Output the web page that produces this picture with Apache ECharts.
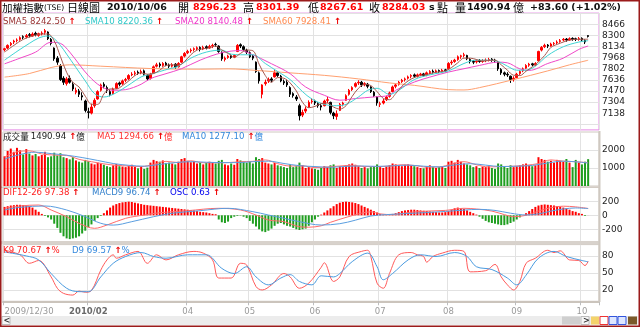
<!DOCTYPE html>
<html><head><meta charset="utf-8">
<script src="https://cdn.jsdelivr.net/npm/echarts@6/dist/echarts.min.js"></script>
<style>html,body{margin:0;padding:0;background:#fff}#c{width:640px;height:327px}</style>
</head><body><div id="c"></div><script>
// Daily candles: [open, close, low, high]
const candles = [
[8085,8100,8060,8115],[8110,8150,8095,8165],[8160,8180,8140,8200],[8200,8215,8170,8235],[8225,8230,8195,8255],
[8240,8265,8220,8285],[8280,8270,8245,8300],[8275,8295,8255,8320],[8310,8300,8270,8335],[8290,8320,8280,8345],
[8330,8310,8285,8355],[8300,8325,8280,8340],[8320,8335,8300,8360],[8345,8370,8310,8395],[8350,8250,8230,8360],
[8240,8180,8150,8260],[8110,7950,7920,8120],[7960,7900,7860,7990],[7850,7640,7620,7870],[7660,7600,7560,7690],
[7580,7650,7550,7680],[7660,7600,7580,7700],[7570,7500,7470,7600],[7450,7480,7420,7520],[7470,7420,7380,7500],
[7400,7380,7330,7450],[7320,7180,7150,7340],[7160,7150,7060,7220],[7140,7230,7120,7280],[7250,7330,7220,7360],
[7350,7460,7340,7480],[7480,7560,7460,7580],[7570,7540,7510,7600],[7520,7480,7440,7550],[7460,7420,7390,7490],
[7430,7500,7410,7520],[7510,7580,7500,7600],[7590,7570,7540,7610],[7580,7620,7560,7640],[7630,7640,7600,7665],
[7650,7700,7630,7720],[7710,7720,7690,7750],[7730,7740,7700,7770],[7750,7730,7710,7775],[7740,7760,7720,7790],
[7770,7720,7700,7790],[7700,7650,7620,7720],[7660,7720,7640,7740],[7740,7830,7730,7850],[7840,7860,7820,7890],
[7870,7850,7820,7895],[7850,7880,7830,7900],[7885,7860,7840,7905],[7855,7840,7810,7880],[7840,7860,7820,7885],
[7870,7830,7800,7885],[7830,7880,7820,7900],[7900,7980,7890,7995],[7990,8030,7970,8050],[8040,8060,8020,8085],
[8070,8080,8040,8105],[8090,8100,8060,8120],[8100,8115,8080,8135],[8120,8090,8060,8135],[8095,8120,8080,8145],
[8130,8110,8090,8150],[8110,8135,8100,8160],[8140,8150,8110,8175],[8165,8160,8130,8190],[8140,8060,8040,8150],
[8050,7950,7920,8060],[7940,7960,7910,7985],[7970,7990,7950,8010],[7995,7970,7950,8015],[7975,8000,7960,8020],
[8060,8150,8050,8170],[8160,8140,8110,8180],[8130,8090,8070,8150],[8080,8050,8020,8100],[8040,7980,7960,8060],
[7990,7960,7930,8010],[7900,7760,7740,7910],[7740,7620,7580,7760],[7420,7560,7360,7570],[7580,7600,7550,7640],
[7620,7640,7590,7670],[7650,7630,7600,7675],[7680,7740,7670,7780],[7740,7700,7680,7760],[7690,7620,7600,7710],
[7610,7590,7560,7640],[7600,7560,7530,7630],[7520,7420,7380,7540],[7430,7400,7370,7450],[7380,7350,7320,7410],
[7250,7100,7030,7280],[7110,7150,7080,7190],[7170,7200,7140,7240],[7230,7300,7220,7330],[7310,7320,7280,7360],
[7320,7290,7260,7340],[7280,7250,7220,7300],[7250,7230,7180,7280],[7250,7320,7240,7340],[7330,7340,7290,7380],
[7300,7150,7120,7310],[7140,7100,7050,7160],[7090,7130,7040,7180],[7180,7270,7170,7290],[7270,7290,7240,7310],
[7330,7400,7320,7420],[7420,7480,7400,7500],[7490,7520,7470,7540],[7540,7580,7520,7600],[7590,7600,7560,7630],
[7600,7560,7530,7620],[7560,7580,7540,7600],[7570,7540,7510,7590],[7530,7460,7440,7540],[7450,7400,7380,7470],
[7380,7290,7250,7390],[7270,7280,7230,7310],[7290,7320,7270,7350],[7340,7380,7320,7400],[7390,7440,7370,7460],
[7460,7530,7450,7550],[7540,7560,7510,7580],[7570,7600,7550,7620],[7610,7630,7590,7650],[7640,7650,7610,7670],
[7660,7680,7640,7700],[7690,7700,7660,7720],[7710,7690,7670,7730],[7690,7710,7670,7730],[7712,7722,7690,7740],
[7725,7700,7680,7740],[7705,7740,7690,7760],[7745,7760,7720,7780],[7765,7750,7730,7790],[7750,7770,7735,7790],
[7775,7760,7740,7790],[7760,7780,7740,7800],[7785,7770,7750,7800],[7800,7880,7790,7900],[7890,7900,7860,7930],
[7910,7930,7890,7950],[7940,7980,7920,8000],[7985,7995,7950,8010],[8000,8010,7970,8040],[8000,7950,7930,8010],
[7940,7910,7880,7960],[7910,7900,7870,7930],[7905,7920,7880,7940],[7925,7910,7890,7945],[7910,7920,7890,7945],
[7925,7930,7900,7955],[7930,7940,7910,7965],[7945,7930,7905,7960],[7930,7920,7890,7950],[7900,7800,7770,7910],
[7790,7740,7710,7810],[7740,7720,7690,7760],[7720,7710,7680,7750],[7690,7640,7590,7700],[7640,7660,7610,7690],
[7670,7720,7660,7740],[7730,7760,7710,7780],[7770,7800,7750,7820],[7810,7850,7800,7870],[7855,7870,7830,7890],
[7875,7860,7840,7890],[7860,7880,7840,7900],[7920,8060,7910,8070],[8080,8120,8060,8140],[8130,8150,8110,8175],
[8155,8140,8110,8170],[8140,8170,8130,8190],[8175,8180,8150,8200],[8190,8200,8170,8225],[8210,8220,8190,8245],
[8230,8240,8210,8260],[8245,8230,8205,8260],[8230,8250,8220,8270],[8255,8240,8220,8270],[8250,8238,8215,8265],
[8240,8250,8220,8275],[8255,8230,8210,8270],[8225,8200.43,8170,8240],[8296.23,8284.03,8267.61,8301.39]
];

// Moving averages of the index, as [day index, value]
const sma5 = [[0,8050],[3,8150],[6,8240],[9,8290],[12,8320],[14,8320],[16,8217],[18,7984],[20,7748],[22,7598],[24,7530],[26,7392],[28,7272],[30,7270],[32,7424],[34,7500],[36,7500],[38,7550],[40,7620],[42,7700],[44,7740],[46,7720],[48,7730],[50,7780],[52,7850],[54,7860],[56,7855],[58,7910],[60,8010],[62,8080],[64,8100],[66,8115],[68,8140],[70,8080],[72,8030],[74,7975],[76,8030],[78,8080],[80,8070],[82,7870],[84,7700],[86,7600],[88,7670],[90,7660],[92,7590],[94,7470],[96,7300],[98,7220],[100,7240],[102,7280],[104,7290],[106,7230],[108,7200],[110,7250],[112,7390],[114,7510],[116,7570],[118,7550],[120,7460],[122,7360],[124,7340],[126,7430],[128,7540],[130,7620],[132,7670],[134,7700],[136,7715],[138,7740],[140,7755],[142,7770],[144,7820],[146,7890],[148,7960],[150,7960],[152,7940],[154,7915],[156,7925],[158,7930],[160,7860],[162,7780],[164,7705],[166,7700],[168,7765],[170,7830],[172,7905],[174,8000],[176,8120],[178,8165],[180,8200],[182,8230],[184,8240],[186,8242],[188,8242.50]];
const sma10 = [[0,7930],[4,8060],[8,8180],[11,8260],[14,8290],[16,8250],[18,8150],[20,8020],[23,7820],[26,7620],[29,7430],[32,7380],[35,7420],[38,7500],[41,7590],[44,7680],[47,7720],[50,7760],[53,7800],[56,7840],[60,7960],[65,8050],[70,8080],[73,8020],[76,8010],[80,8010],[84,7880],[88,7760],[92,7640],[96,7460],[99,7350],[103,7270],[107,7250],[110,7270],[114,7380],[117,7480],[120,7510],[124,7420],[127,7480],[132,7640],[137,7710],[143,7770],[148,7880],[152,7930],[156,7930],[159,7910],[162,7840],[165,7780],[168,7780],[171,7840],[175,8000],[180,8130],[185,8200],[188,8220.36]];
const sma20 = [[0,7875],[5,7960],[10,8050],[15,8196],[18,8180],[21,8050],[24,7870],[27,7700],[31,7540],[35,7480],[39,7490],[44,7570],[47,7654],[52,7728],[57,7802],[63,7930],[70,8040],[76,8073],[79,8030],[86,7876],[92,7728],[97,7529],[103,7406],[108,7332],[113,7357],[119,7381],[124,7406],[126,7480],[132,7603],[137,7677],[143,7752],[148,7802],[153,7851],[159,7900],[162,7890],[166,7800],[169,7777],[175,7880],[180,7960],[185,8090],[188,8140.48]];
const sma60 = [[0,7677],[8,7730],[15,7820],[21,7860],[31,7840],[47,7805],[63,7795],[72,7800],[81,7777],[92,7740],[103,7703],[114,7650],[124,7590],[132,7554],[143,7490],[148,7485],[153,7520],[164,7640],[175,7770],[182,7860],[188,7928.41]];

// Turnover (hundred-million NT$)
const volume = [
1650,1950,2080,1900,2120,1980,1750,2050,1800,1700,
1780,1650,1720,1900,1600,1650,1850,1700,1820,1600,
1550,1480,1600,1420,1350,1300,1450,1380,1250,1200,
1300,1250,1180,1100,1050,1150,1220,1100,1080,1050,
1120,1180,1060,980,1100,950,1020,1300,1450,1380,
1350,1420,1280,1300,1250,1200,1350,1500,1550,1400,
1320,1380,1250,1300,1200,1280,1350,1300,1250,1400,
1450,1200,1150,1250,1180,1500,1420,1350,1300,1380,
1250,1600,1500,1550,1300,1250,1200,1280,1150,1100,
1050,1000,1200,1050,1100,1300,1150,1000,1050,980,
950,900,1000,1100,1050,1150,1200,1000,1100,1050,
1150,1200,1250,1180,1100,1000,1050,980,1050,1100,
1200,1050,1000,1080,1150,1250,1200,1150,1100,1180,
1200,1150,1100,1050,1000,980,1100,1150,1050,1000,
1050,1100,1000,1350,1400,1300,1450,1350,1250,1200,
1150,1050,1100,1000,1080,1050,1100,1000,950,1250,
1200,1100,1000,1150,1050,1100,1150,1200,1250,1150,
1100,1150,1600,1500,1450,1350,1400,1300,1450,1400,
1350,1500,1300,1050,1450,1300,1200,1350,1490.94
];
const volMa5 = [[0,1600],[4,1900],[8,1950],[12,1780],[16,1720],[20,1700],[24,1480],[28,1350],[32,1230],[36,1150],[40,1110],[44,1080],[48,1200],[52,1370],[56,1300],[60,1400],[64,1290],[68,1290],[72,1300],[76,1350],[80,1370],[84,1450],[88,1240],[92,1110],[96,1120],[100,1020],[104,1060],[108,1110],[112,1150],[116,1080],[120,1080],[124,1110],[128,1180],[132,1140],[136,1050],[140,1060],[144,1220],[148,1350],[152,1180],[156,1060],[160,1080],[164,1100],[168,1150],[172,1250],[176,1450],[180,1380],[184,1350],[188,1294.66]];
const volMa10 = [[0,1500],[5,1750],[10,1880],[15,1800],[20,1710],[25,1580],[30,1420],[35,1250],[40,1150],[45,1100],[50,1200],[55,1300],[60,1350],[65,1320],[70,1300],[75,1300],[80,1350],[85,1380],[90,1250],[95,1130],[100,1080],[105,1040],[110,1090],[115,1110],[120,1090],[125,1120],[130,1160],[135,1100],[140,1060],[145,1170],[150,1240],[155,1160],[160,1080],[165,1100],[170,1140],[175,1280],[180,1380],[185,1330],[188,1277.10]];

// MACD panel
const dif = [[0,100],[5,133],[11,147],[15,76],[20,-20],[24,-115],[29,-186],[33,-139],[39,-43],[45,4],[50,37],[59,66],[69,100],[76,76],[81,4],[85,-67],[90,-91],[95,-163],[98,-170],[102,-150],[105,-100],[110,-30],[115,30],[118,50],[121,20],[125,10],[130,40],[136,60],[142,70],[148,100],[152,90],[157,60],[161,10],[164,-20],[168,0],[172,60],[176,110],[180,130],[184,120],[188,97.38]];
const macd9 = [[0,76],[5,114],[13,133],[20,76],[26,-20],[31,-114],[35,-140],[41,-91],[48,-20],[54,29],[63,66],[72,100],[80,52],[85,4],[90,-43],[95,-91],[102,-139],[108,-120],[113,-70],[118,-10],[123,10],[130,25],[136,40],[142,55],[148,75],[153,85],[158,70],[163,30],[168,5],[172,20],[176,60],[180,90],[184,105],[188,96.74]];
const osc = [
120,130,140,145,150,150,145,140,135,110,80,50,20,
-10,-30,-60,-120,-180,-250,-300,-330,-340,-330,
-320,-300,-260,-220,-170,-130,-80,-40,-10,
30,70,110,140,160,175,185,190,195,190,180,170,160,
150,145,140,135,130,125,120,115,110,105,100,95,90,85,80,75,70,60,50,45,40,30,20,15,
-60,-100,-110,-90,-40,-20,-10,-5,-20,-40,
-80,-120,-160,-200,-230,-240,-220,-190,
-150,-120,-110,-130,-150,-160,-180,
-200,-210,-200,-190,-150,-100,-60,-20,10,
40,70,100,130,160,180,190,195,190,185,175,160,140,120,100,
80,60,40,20,10,5,10,20,
30,45,60,70,75,80,80,75,70,65,60,55,50,45,40,
40,45,60,80,100,110,100,90,70,50,
30,10,-20,-50,-80,-100,-110,-120,
-130,-140,-140,-130,-110,-90,-60,-30,
0,30,60,90,120,140,150,155,150,
145,140,130,120,110,100,80,60,50,30,20,-10,0.63
];

// KD panel
const k9 = [[0,90],[5,82],[8,67],[11,72],[15,43],[17,23],[19,14],[22,11],[24,18],[26,16],[28,19],[31,55],[33,73],[35,82],[36,76],[39,82],[43,88],[46,67],[49,82],[52,73],[56,82],[61,88],[64,85],[67,73],[69,41],[73,41],[76,67],[78,64],[81,26],[83,20],[86,29],[90,49],[92,43],[95,23],[98,32],[102,60],[103,68],[106,35],[108,43],[111,79],[115,88],[117,90],[118,79],[120,32],[122,23],[124,49],[127,82],[131,86],[133,82],[135,79],[136,69],[138,79],[141,85],[145,90],[148,88],[150,52],[155,54],[158,65],[160,43],[162,29],[164,20],[166,35],[168,67],[171,76],[175,90],[177,86],[179,89],[182,73],[185,72],[187,63],[188,70.67]];
const d9 = [[0,87],[7,80],[11,73],[15,49],[20,23],[24,17],[27,17],[31,43],[35,67],[39,79],[44,86],[48,79],[52,76],[59,82],[65,82],[70,58],[74,49],[78,61],[81,43],[85,29],[89,41],[92,47],[95,35],[99,29],[102,45],[106,43],[108,49],[112,70],[117,85],[120,61],[122,38],[125,49],[130,73],[134,82],[139,79],[145,86],[149,79],[152,61],[157,56],[162,41],[165,29],[168,46],[172,76],[177,88],[181,79],[186,72],[188,69.57]];

// Axis ticks
const priceTicks = [7138, 7304, 7470, 7636, 7802, 7968, 8134, 8300, 8466];
const volTicks = [1000, 2000];
const macdTicks = [-200, 0, 200];
const kdTicks = [20, 50, 80];
const xTicks = [[0,'2009/12/30'],[27,'2010/02'],[59,'04'],[79,'05'],[100,'06'],[121,'07'],[143,'08'],[165,'09'],[186,'10']];

const RED = '#ff0000', GREEN = '#1f9e1f';
const slots = candles.concat([null, null, null]).map((_, i) => String(i));
const tickMap = new Map(xTicks);
const isTick = (idx) => tickMap.has(idx);
const NUM = '"DejaVu Sans", Verdana, sans-serif';
const CJK = '"Noto Sans CJK TC", "Noto Sans CJK SC", sans-serif';
const GRIDLINE = '#e2e2e2';
const NONE = 'rgba(0,0,0,0)';

const gridBox = { show: true, backgroundColor: '#fff', borderWidth: 1 };
const grids = [
  Object.assign({ left: 3, right: 41, top: 13.1, height: 116.8, borderColor: '#e58be5' }, gridBox),
  Object.assign({ left: 3, right: 41, top: 132, height: 54, borderColor: '#cfc8c0' }, gridBox),
  Object.assign({ left: 3, right: 41, top: 187.3, height: 56, borderColor: '#cfc8c0' }, gridBox),
  Object.assign({ left: 3, right: 41, top: 244.6, height: 56.7, borderColor: '#cfc8c0' }, gridBox)
];

function xAxis(gridIndex, labelled) {
  return {
    type: 'category', gridIndex, data: slots, boundaryGap: true,
    axisLine: { show: labelled, lineStyle: { color: '#cbc4bc', width: 2 } },
    axisTick: { show: labelled, interval: isTick, length: 4, lineStyle: { color: '#bdbdbd' } },
    axisLabel: {
      show: labelled, interval: isTick, margin: 6, color: '#9a9a9a', fontSize: 8.5, fontFamily: NUM,
      alignMinLabel: 'left',
      formatter: (v, idx) => { const t = tickMap.get(idx) || ''; return t === '2010/02' ? '{b|' + t + '}' : t; },
      rich: { b: { fontWeight: 'bold', color: '#6a6a6a', fontSize: 8.5, fontFamily: NUM } }
    },
    splitLine: { show: true, interval: isTick, lineStyle: { color: GRIDLINE, width: 1 } }
  };
}
function yAxis(gridIndex, min, max, interval, ticks, colors) {
  return {
    type: 'value', gridIndex, position: 'right', min, max, interval, scale: true,
    axisLine: { show: false }, axisTick: { show: false },
    axisLabel: { margin: 3, color: '#222', fontSize: 9, fontFamily: NUM,
      formatter: (v) => ticks.includes(v) ? String(v) : '' },
    splitLine: { show: true, lineStyle: { color: colors, width: 1 } }
  };
}

function line(name, data, color, xi, yi, z) {
  return { name, type: 'line', data, xAxisIndex: xi, yAxisIndex: yi, smooth: 0.35, symbol: 'none',
    lineStyle: { color, width: 1 }, z: z || 4, silent: true };
}

// one-line text block with inline styled runs: parts = [[text, colour, font], ...]
function runs(x, y, parts) {
  const rich = {};
  let text = '';
  parts.forEach((p, i) => {
    rich['p' + i] = { fill: p[1], font: p[2] };
    text += '{p' + i + '|' + p[0] + '}';
  });
  return { type: 'text', x, y, silent: true, z: 100,
    style: { text, rich, verticalAlign: 'middle', align: 'left' } };
}
function txt(x, y, text, fill, font) {
  return { type: 'text', x, y, silent: true, z: 100,
    style: { text, fill, font, verticalAlign: 'middle', align: 'left' } };
}

const T = 'bold 9.5px ' + NUM;
const L = '8.6px ' + NUM;
const ARR = 'bold 8.5px ' + NUM;
const C9 = '8.6px ' + CJK;
const C11 = '11px ' + CJK;
const AR = '#ee0000';
const legend = (x, y, label, colour, unit) => runs(x, y,
  [[label, colour, L], [' ↑', AR, ARR]].concat(unit ? [[unit, colour, unit === '%' ? L : C9]] : []));

const graphics = [
  // header
  runs(2, 8, [['加權指數', '#000', '10.5px ' + CJK], ['(TSE)', '#000', '7.6px ' + NUM]]),
  txt(67, 8, '日線圖', '#000', C11),
  txt(107, 8, '2010/10/06', '#111', T),
  txt(178, 8, '開', '#000', C11),
  txt(193, 8, '8296.23', '#ff0000', T),
  txt(243, 8, '高', '#000', C11),
  txt(256, 8, '8301.39', '#ff0000', T),
  txt(308, 8, '低', '#000', C11),
  txt(320, 8, '8267.61', '#ff0000', T),
  txt(369, 8, '收', '#000', C11),
  txt(382, 8, '8284.03', '#ff0000', T),
  txt(429, 8, 's', '#111', T),
  txt(437, 8, '點', '#000', C11),
  txt(455, 8, '量', '#000', C11),
  txt(467, 8, '1490.94', '#111', T),
  txt(513, 8, '億', '#000', C11),
  txt(530, 8, '+83.60 (+1.02%)', '#111', T),
  // price legend
  legend(3, 22, 'SMA5 8242.50', '#993333'),
  legend(85, 22, 'SMA10 8220.36', '#2fc8c8'),
  legend(175, 22, 'SMA20 8140.48', '#f032c8'),
  legend(263, 22, 'SMA60 7928.41', '#ff8a50'),
  // volume legend
  runs(3, 136.5, [['成交量 ', '#222', C9], ['1490.94', '#222', L], [' ↑', AR, ARR], ['億', '#222', C9]]),
  legend(97, 136.5, 'MA5 1294.66', '#ff3030', '億'),
  legend(182, 136.5, 'MA10 1277.10', '#3388dd', '億'),
  // MACD legend
  legend(3, 193, 'DIF12-26 97.38', '#ff2020'),
  legend(92, 193, 'MACD9 96.74', '#3380cc'),
  legend(170, 193, 'OSC 0.63', '#0000ee'),
  // KD legend
  legend(3, 250.5, 'K9 70.67', '#ff2020', '%'),
  legend(72, 250.5, 'D9 69.57', '#3388dd', '%'),
  // panel separators
  { type: 'rect', silent: true, z: 90, shape: { x: 1, y: 186.5, width: 599, height: 1.5 }, style: { fill: '#d3ccc4' } },
  { type: 'rect', silent: true, z: 90, shape: { x: 1, y: 241, width: 599, height: 3.6 }, style: { fill: '#d8d2cc' } },
  { type: 'rect', silent: true, z: 90, shape: { x: 598.5, y: 131, width: 2, height: 171 }, style: { fill: '#cfc8c0' } },
  // scroll bar
  { type: 'rect', silent: true, z: 90, shape: { x: 1.5, y: 316, width: 637, height: 9 }, style: { fill: '#ececec' } },
  { type: 'rect', silent: true, z: 91, shape: { x: 2, y: 316.5, width: 8, height: 8 }, style: { fill: '#f6f6f6', stroke: '#b0b0b0', lineWidth: 0.8 } },
  txt(3.5, 320.5, '<', '#333', 'bold 8px ' + NUM),
  { type: 'rect', silent: true, z: 91, shape: { x: 562, y: 316.5, width: 18, height: 8 }, style: { fill: '#cfcfcf' } },
  { type: 'rect', silent: true, z: 91, shape: { x: 581, y: 316.5, width: 8, height: 8 }, style: { fill: '#f6f6f6', stroke: '#b0b0b0', lineWidth: 0.8 } },
  txt(583, 320.5, '>', '#333', 'bold 8px ' + NUM),
  { type: 'rect', silent: true, z: 91, shape: { x: 591, y: 316.5, width: 8, height: 8 }, style: { fill: '#f4d36b' } },
  { type: 'rect', silent: true, z: 91, shape: { x: 600, y: 316.5, width: 8, height: 8 }, style: { fill: '#fff', stroke: '#e33', lineWidth: 1 } },
  { type: 'rect', silent: true, z: 91, shape: { x: 609, y: 316.5, width: 8, height: 8 }, style: { fill: '#dde6ff', stroke: '#3355dd', lineWidth: 1 } },
  { type: 'rect', silent: true, z: 91, shape: { x: 618, y: 316.5, width: 8, height: 8 }, style: { fill: '#dde6ff', stroke: '#3355dd', lineWidth: 1 } },
  { type: 'rect', silent: true, z: 91, shape: { x: 628, y: 316.5, width: 9, height: 8 }, style: { fill: '#7a5a2a' } },
  // frame
  { type: 'rect', silent: true, z: 99, shape: { x: 0.75, y: 0.75, width: 638.5, height: 325.5 }, style: { fill: 'none', stroke: '#9b1b1b', lineWidth: 1.5 } }
];

const upDown = (i) => candles[i][1] >= candles[i][0] ? RED : GREEN;

const option = {
  animation: false,
  backgroundColor: '#ffffff',
  grid: grids,
  xAxis: [xAxis(0, false), xAxis(1, false), xAxis(2, false), xAxis(3, true)],
  yAxis: [
    yAxis(0, 6889, 8632, 83, priceTicks, [NONE, GRIDLINE]),
    yAxis(1, 0, 3000, 1000, volTicks, [NONE, GRIDLINE, GRIDLINE, NONE]),
    yAxis(2, -400, 400, 200, macdTicks, [NONE, GRIDLINE, GRIDLINE, GRIDLINE, NONE]),
    yAxis(3, 0, 100, 10, kdTicks, [NONE, NONE, GRIDLINE, NONE, NONE, GRIDLINE, NONE, NONE, GRIDLINE, NONE, NONE])
  ],
  series: [
    { name: 'TSE', type: 'candlestick', data: candles, xAxisIndex: 0, yAxisIndex: 0, barWidth: 2, z: 3,
      itemStyle: { color: RED, color0: '#000', borderColor: RED, borderColor0: '#000', borderWidth: 1 } },
    line('SMA60', sma60, '#ffa070', 0, 0),
    line('SMA20', sma20, '#f048c8', 0, 0),
    line('SMA10', sma10, '#3fd4d4', 0, 0),
    line('SMA5', sma5, '#a8584e', 0, 0),
    { name: '成交量', type: 'bar', data: volume, xAxisIndex: 1, yAxisIndex: 1, barWidth: 2,
      itemStyle: { color: (p) => upDown(p.dataIndex) } },
    line('MA5', volMa5, '#ff7070', 1, 1),
    line('MA10', volMa10, '#5a9ee0', 1, 1),
    { name: 'OSC', type: 'bar', data: osc, xAxisIndex: 2, yAxisIndex: 2, barWidth: 2,
      itemStyle: { color: (p) => p.value >= 0 ? RED : GREEN } },
    line('DIF', dif, '#ff6a6a', 2, 2),
    line('MACD9', macd9, '#5a9ee0', 2, 2),
    line('K9', k9, '#ff5a5a', 3, 3),
    line('D9', d9, '#4a9be0', 3, 3)
  ],
  graphic: { elements: graphics }
};

const chart = echarts.init(document.getElementById('c'), null, { renderer: 'canvas' });
chart.setOption(option);
</script></body></html>
